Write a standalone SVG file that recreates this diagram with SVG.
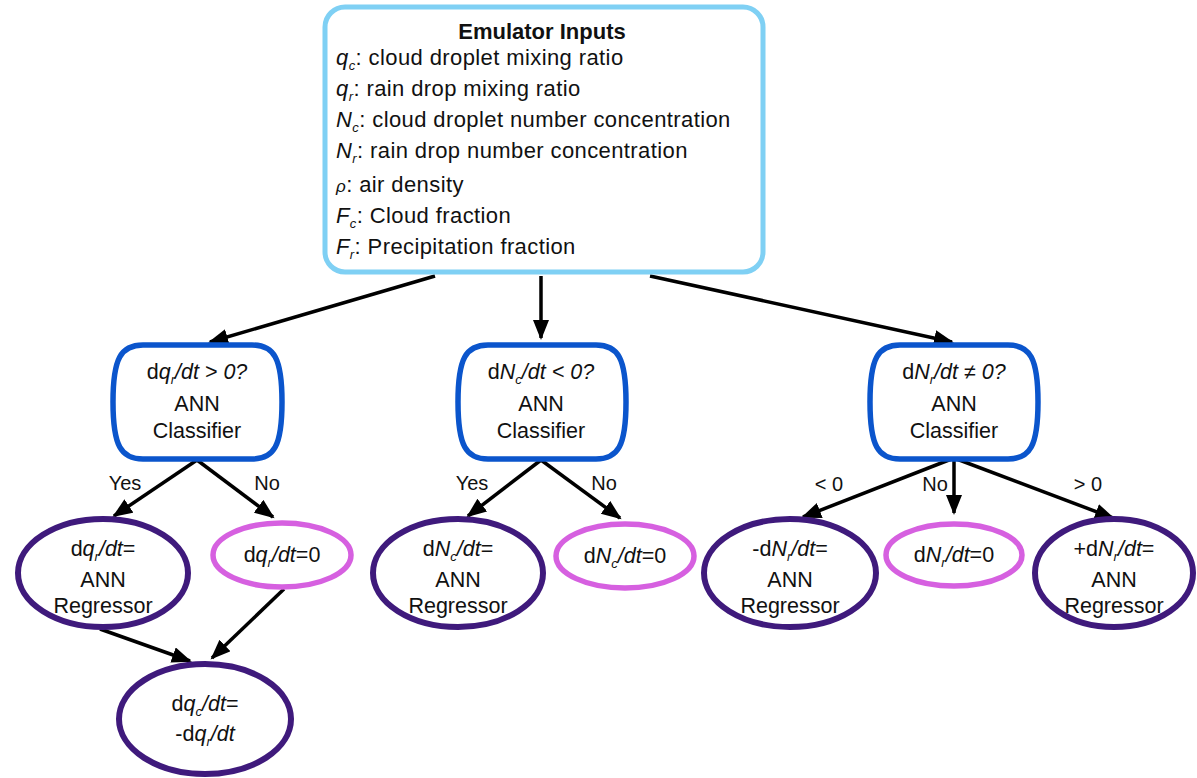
<svg xmlns="http://www.w3.org/2000/svg" width="1197" height="778" viewBox="0 0 1197 778">
<style>
text{font-family:"Liberation Sans",Arial,sans-serif;fill:#111;}
.t{font-size:22px;letter-spacing:0.4px;}
.n{font-size:21.5px;text-anchor:middle;}
.lbl{font-size:20px;text-anchor:middle;}
.i{font-style:italic;}
.s{font-size:13px;font-style:italic;}
.cls{fill:#fff;stroke:#0b55cc;stroke-width:5.5;}
.reg{fill:#fff;stroke:#3f1a7c;stroke-width:6;}
.zero{fill:#fff;stroke:#d660e0;stroke-width:5.5;}
.edge{stroke:#000;stroke-width:3.5;fill:none;marker-end:url(#ah);}
</style>
<defs>
<marker id="ah" markerUnits="userSpaceOnUse" markerWidth="22" markerHeight="18" refX="18" refY="8" orient="auto">
<path d="M0,0 L20,8 L0,16 Z" fill="#000"/>
</marker>
</defs>
<rect width="1197" height="778" fill="#fff"/>

<g id="connectors">
<line class="edge" x1="435" y1="276" x2="210" y2="342"/>
<line class="edge" x1="541" y1="276" x2="541" y2="338"/>
<line class="edge" x1="650" y1="276" x2="952" y2="342"/>
<line class="edge" x1="197" y1="460" x2="114" y2="516"/>
<line class="edge" x1="197" y1="460" x2="273" y2="517"/>
<line class="edge" x1="541" y1="460" x2="468" y2="516"/>
<line class="edge" x1="541" y1="460" x2="620" y2="518"/>
<line class="edge" x1="954" y1="458" x2="803" y2="517"/>
<line class="edge" x1="954" y1="458" x2="954" y2="513"/>
<line class="edge" x1="954" y1="458" x2="1113" y2="518"/>
<line class="edge" x1="100" y1="629" x2="190" y2="661"/>
<line class="edge" x1="284" y1="589" x2="212" y2="658"/>
<text class="lbl" x="125" y="490">Yes</text>
<text class="lbl" x="267" y="490">No</text>
<text class="lbl" x="472" y="490">Yes</text>
<text class="lbl" x="604" y="490">No</text>
<text class="lbl" x="829" y="491">&lt; 0</text>
<text class="lbl" x="935" y="491">No</text>
<text class="lbl" x="1088" y="491">&gt; 0</text>
</g>

<g id="inputs">
<rect x="325" y="7" width="438" height="265" rx="20" fill="#fff" stroke="#7fd0f4" stroke-width="5"/>
<text x="542" y="39" font-size="22" font-weight="bold" text-anchor="middle">Emulator Inputs</text>
<text class="t" x="336" y="65"><tspan class="i">q</tspan><tspan class="s" dy="5">c</tspan><tspan dy="-5">: cloud droplet mixing ratio</tspan></text>
<text class="t" x="336" y="96"><tspan class="i">q</tspan><tspan class="s" dy="5">r</tspan><tspan dy="-5">: rain drop mixing ratio</tspan></text>
<text class="t" x="336" y="127"><tspan class="i">N</tspan><tspan class="s" dy="5">c</tspan><tspan dy="-5">: cloud droplet number concentration</tspan></text>
<text class="t" x="336" y="158"><tspan class="i">N</tspan><tspan class="s" dy="5">r</tspan><tspan dy="-5">: rain drop number concentration</tspan></text>
<text class="t" x="336" y="192"><tspan class="i" font-size="17">ρ</tspan>: air density</text>
<text class="t" x="336" y="223"><tspan class="i">F</tspan><tspan class="s" dy="5">c</tspan><tspan dy="-5">: Cloud fraction</tspan></text>
<text class="t" x="336" y="254"><tspan class="i">F</tspan><tspan class="s" dy="5">r</tspan><tspan dy="-5">: Precipitation fraction</tspan></text>
</g>

<g id="classifier-qr">
<path class="cls" d="M143,345 H252 C274,345 282,358 282,402 C282,446 274,459 252,459 H143 C121,459 113,446 113,402 C113,358 121,345 143,345 Z"/>
<text class="n" x="197" y="379">d<tspan class="i">q</tspan><tspan class="s" dy="5">r</tspan><tspan class="i" dy="-5">/dt &gt; 0?</tspan></text>
<text class="n" x="197" y="411">ANN</text>
<text class="n" x="197" y="438">Classifier</text>
</g>

<g id="classifier-nc">
<path class="cls" d="M488,345 H596 C618,345 626,358 626,402 C626,446 618,459 596,459 H488 C466,459 458,446 458,402 C458,358 466,345 488,345 Z"/>
<text class="n" x="541" y="379">d<tspan class="i">N</tspan><tspan class="s" dy="5">c</tspan><tspan class="i" dy="-5">/dt &lt; 0?</tspan></text>
<text class="n" x="541" y="411">ANN</text>
<text class="n" x="541" y="438">Classifier</text>
</g>

<g id="classifier-nr">
<path class="cls" d="M900,345 H1008 C1030,345 1038,358 1038,402 C1038,446 1030,459 1008,459 H900 C878,459 870,446 870,402 C870,358 878,345 900,345 Z"/>
<text class="n" x="954" y="379">d<tspan class="i">N</tspan><tspan class="s" dy="5">r</tspan><tspan class="i" dy="-5">/dt ≠ 0?</tspan></text>
<text class="n" x="954" y="411">ANN</text>
<text class="n" x="954" y="438">Classifier</text>
</g>

<g id="reg-qr">
<ellipse class="reg" cx="103" cy="573" rx="85" ry="54"/>
<text class="n" x="103" y="556">d<tspan class="i">q</tspan><tspan class="s" dy="5">r</tspan><tspan class="i" dy="-5">/dt</tspan>=</text>
<text class="n" x="103" y="587">ANN</text>
<text class="n" x="103" y="613">Regressor</text>
</g>

<g id="zero-qr">
<ellipse class="zero" cx="282" cy="555" rx="69" ry="32"/>
<text class="n" x="282" y="562">d<tspan class="i">q</tspan><tspan class="s" dy="5">r</tspan><tspan class="i" dy="-5">/dt</tspan>=0</text>
</g>

<g id="reg-nc">
<ellipse class="reg" cx="458" cy="573" rx="85" ry="54"/>
<text class="n" x="458" y="556">d<tspan class="i">N</tspan><tspan class="s" dy="5">c</tspan><tspan class="i" dy="-5">/dt</tspan>=</text>
<text class="n" x="458" y="587">ANN</text>
<text class="n" x="458" y="613">Regressor</text>
</g>

<g id="zero-nc">
<ellipse class="zero" cx="625" cy="556" rx="69" ry="32"/>
<text class="n" x="625" y="563">d<tspan class="i">N</tspan><tspan class="s" dy="5">c</tspan><tspan class="i" dy="-5">/dt</tspan>=0</text>
</g>

<g id="reg-nr-neg">
<ellipse class="reg" cx="790" cy="573" rx="86" ry="54"/>
<text class="n" x="790" y="556">-d<tspan class="i">N</tspan><tspan class="s" dy="5">r</tspan><tspan class="i" dy="-5">/dt</tspan>=</text>
<text class="n" x="790" y="587">ANN</text>
<text class="n" x="790" y="613">Regressor</text>
</g>

<g id="zero-nr">
<ellipse class="zero" cx="954" cy="555" rx="68" ry="31"/>
<text class="n" x="954" y="562">d<tspan class="i">N</tspan><tspan class="s" dy="5">r</tspan><tspan class="i" dy="-5">/dt</tspan>=0</text>
</g>

<g id="reg-nr-pos">
<ellipse class="reg" cx="1114" cy="573" rx="79" ry="54"/>
<text class="n" x="1114" y="556">+d<tspan class="i">N</tspan><tspan class="s" dy="5">r</tspan><tspan class="i" dy="-5">/dt</tspan>=</text>
<text class="n" x="1114" y="587">ANN</text>
<text class="n" x="1114" y="613">Regressor</text>
</g>

<g id="qc">
<ellipse class="reg" cx="205" cy="719" rx="86" ry="55"/>
<text class="n" x="205" y="711">d<tspan class="i">q</tspan><tspan class="s" dy="5">c</tspan><tspan class="i" dy="-5">/dt</tspan>=</text>
<text class="n" x="205" y="741">-d<tspan class="i">q</tspan><tspan class="s" dy="5">r</tspan><tspan class="i" dy="-5">/dt</tspan></text>
</g>
</svg>
